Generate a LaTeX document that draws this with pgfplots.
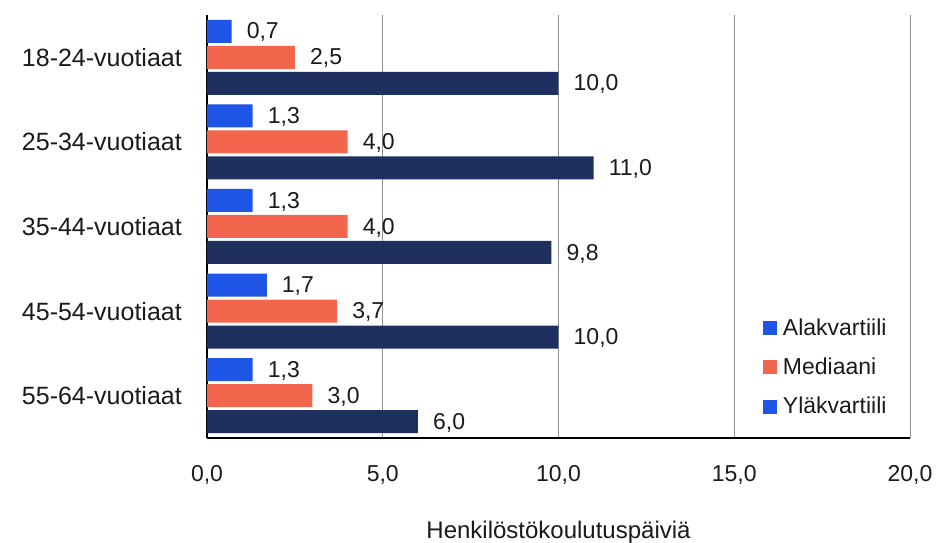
\documentclass[border=0pt]{standalone}
\usepackage{pgfplots}
\pgfplotsset{compat=1.18}
\usepackage{fontspec}
\setmainfont{Liberation Sans}
\definecolor{cA}{HTML}{1F55E6}
\definecolor{cM}{HTML}{F2664E}
\definecolor{cY}{HTML}{1D305F}
\definecolor{txt}{HTML}{1A1A1A}
\begin{document}
\begin{tikzpicture}
\useasboundingbox (-207pt,-105pt) rectangle (731pt,438pt);
\begin{axis}[
 scale only axis, width=703pt, height=423pt,
 xbar, bar width=23pt,
 xmin=0, xmax=20, ymin=-0.5, ymax=4.5,
 axis x line*=bottom, axis y line*=left,
 axis line style={black, line width=2pt, -},
 xtick={0,5,10,15,20}, ytick={0,1,2,3,4},
 yticklabels={55-64-vuotiaat,45-54-vuotiaat,35-44-vuotiaat,25-34-vuotiaat,18-24-vuotiaat},
 major tick length=0pt,
 xmajorgrids, grid style={gray!85!white, line width=0.9pt},
 /pgf/number format/.cd, fixed, fixed zerofill, precision=1, use comma, assume math mode=true, /pgfplots/.cd,
 xticklabel style={font=\fontsize{23}{27}\selectfont, text=txt, inner sep=0pt, yshift=-27pt},
 yticklabel style={font=\fontsize{25}{30}\selectfont, text=txt, inner sep=0pt, xshift=-25pt},
 xlabel={Henkilöstökoulutuspäiviä},
 xlabel style={font=\fontsize{24}{28}\selectfont, text=txt, inner sep=0pt, anchor=north, at={(axis description cs:0.5,0)}, yshift=-83pt},
 nodes near coords,
 nodes near coords style={font=\fontsize{23}{27}\selectfont, text=txt, inner sep=0pt, anchor=west, xshift=15pt, yshift=-1pt},
 legend style={draw=none, fill=none, at={(0.790,0.287)}, anchor=north west, inner sep=0pt,
   font=\fontsize{23}{27}\selectfont, text=txt, row sep=17pt, column sep=5pt},
 legend cell align=left,
]
\addplot[bar shift=26pt, fill=cA, draw=none, forget plot]
 coordinates {(0.7,4) (1.3,3) (1.3,2) (1.7,1) (1.3,0)};
\addplot[bar shift=0pt, fill=cM, draw=none, forget plot]
 coordinates {(2.5,4) (4.0,3) (4.0,2) (3.7,1) (3.0,0)};
\addplot[bar shift=-26pt, fill=cY, draw=none, forget plot]
 coordinates {(10.0,4) (11.0,3) (9.8,2) (10.0,1) (6.0,0)};
\addlegendimage{legend image code/.code={\fill[cA] (0pt,-6.5pt) rectangle (13pt,6.5pt);}}
\addlegendentry{Alakvartiili}
\addlegendimage{legend image code/.code={\fill[cM] (0pt,-6.5pt) rectangle (13pt,6.5pt);}}
\addlegendentry{Mediaani}
\addlegendimage{legend image code/.code={\fill[cA] (0pt,-6.5pt) rectangle (13pt,6.5pt);}}
\addlegendentry{Yläkvartiili}
\end{axis}
\end{tikzpicture}
\end{document}
